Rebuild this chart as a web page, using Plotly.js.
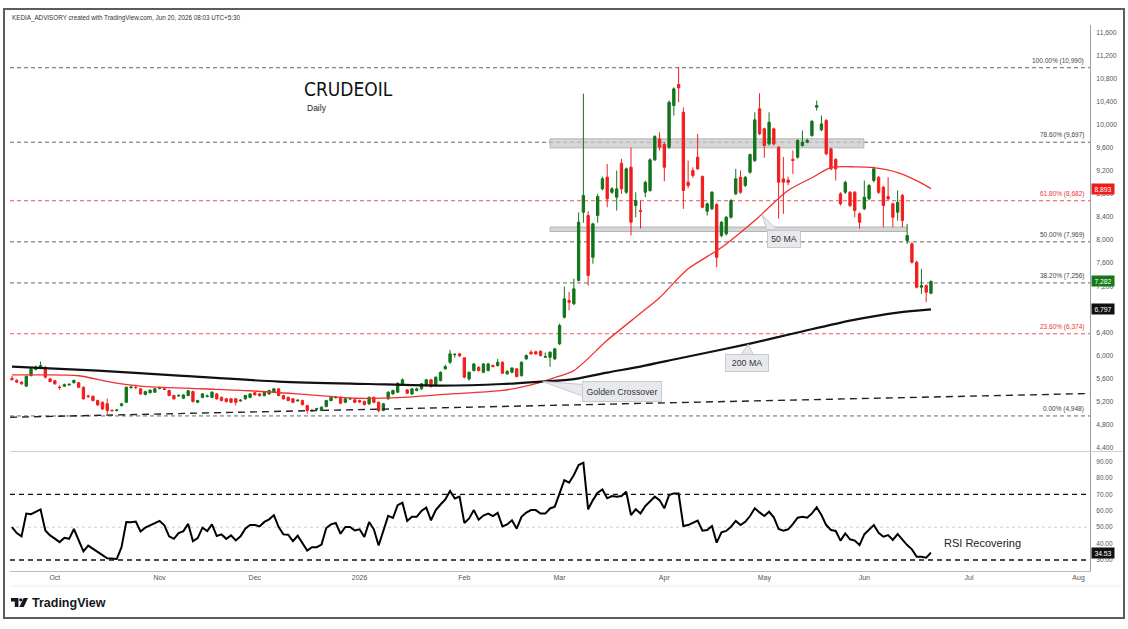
<!DOCTYPE html>
<html><head><meta charset="utf-8">
<script src="https://cdn.plot.ly/plotly-3.0.1.min.js"></script>
<style>
html,body{margin:0;padding:0;background:#fff;}
#wrap{position:relative;width:1128px;height:629px;overflow:hidden;}
#chart{position:absolute;left:0;top:0;width:1128px;height:629px;}
#frame{position:absolute;left:3px;top:8px;width:1122px;height:611px;border:2px solid #5c5c5c;box-sizing:border-box;pointer-events:none;}
</style></head>
<body><div id="wrap"><div id="chart"></div><div id="frame"></div></div>
<script>
// ---------- DATA ----------
const lastBarDate = '2026-06-19';
const holidays = ['2025-10-02','2025-12-25','2026-04-03'];

const opens = [
5600,5565,5535,5465,5650,5755,5775,5793,5590,5560,5450,5465,5485,5525,5525,5445,5295,5290,5215,5185,
5160,5045,5040,5128,5185,5440,5445,5418,5320,5350,5360,5425,5420,5389,5302,5295,5255,5302,5370,5185,
5270,5285,5270,5330,5270,5245,5245,5245,5210,5245,5270,5350,5330,5300,5330,5360,5418,
5302,5270,5245,5210,5215,5128,5045,5065,5042,5110,5215,5265,5270,5185,5240,5228,5215,5200,5158,5270,
5185,5042,5245,5330,5360,5505,5400,5330,5389,5418,5475,5575,5475,5562,5765,
5880,6010,6025,5955,5590,5736,5793,5706,5736,5822,5822,5880,5678,5706,5765,5648,5938,6053,6060,6070,5966,5966,5938,6199,
6660,6950,6893,7300,8482,8425,7700,8425,8888,9090,8829,8743,9333,8829,9263,8599,8512,8829,8858,9391,
9755,9657,9610,10333,10698,10217,9003,9206,9437,9102,8500,8541,8616,8078,8107,8396,8801,9089,8946,9176,
9379,10276,9929,9669,9929,9610,9061,9040,9400,9437,9640,9698,9813,10304,9912,10073,9582,9397,8801,8829,
8829,8829,8455,8541,8715,9032,9089,8916,8755,8628,8483,8772,7991,7934,7615,7181,7210,7077];
const highs = [
5640,5590,5550,5650,5780,5820,5890,5810,5610,5575,5480,5510,5520,5580,5540,5460,5320,5300,5230,5200,
5250,5060,5070,5175,5460,5480,5490,5430,5385,5410,5430,5460,5430,5400,5315,5320,5325,5400,5385,5230,
5345,5320,5375,5345,5285,5260,5260,5260,5240,5315,5345,5365,5345,5375,5405,5435,5430,
5315,5285,5260,5240,5230,5140,5070,5090,5115,5230,5290,5295,5285,5260,5270,5245,5230,5215,5285,5285,
5200,5175,5375,5405,5530,5600,5415,5430,5440,5520,5590,5590,5635,5720,5836,
6094,6040,6040,5970,5720,5865,5810,5865,5870,5840,5938,5895,5740,5795,5780,5895,6015,6090,6080,6085,6050,6070,6130,6550,
7193,7100,7330,8480,10540,8500,8300,8800,9100,9322,8920,9206,9409,9260,9605,8829,8685,9030,9420,9820,
9870,9700,10420,10650,10998,10300,9380,9260,9842,9120,8650,8850,8640,8330,8420,8710,9235,9206,9110,9500,
10217,10547,9950,10217,9950,9630,9440,9100,9553,9750,9900,9760,10080,10420,10160,10100,9600,9420,8830,9030,
8850,8850,8480,9032,8970,9275,9110,8940,9089,8650,8860,8800,8281,7960,7640,7500,7230,7300];
const lows = [
5560,5520,5490,5450,5630,5740,5760,5600,5530,5490,5400,5450,5470,5510,5430,5230,5260,5200,5120,5050,
4985,5020,5030,5110,5170,5420,5410,5315,5305,5340,5350,5410,5395,5290,5230,5280,5240,5290,5180,5170,
5255,5270,5255,5230,5200,5180,5170,5130,5195,5230,5255,5300,5285,5290,5315,5345,5290,
5230,5200,5170,5195,5130,4990,5020,5050,5030,5100,5200,5250,5155,5170,5225,5170,5175,5130,5140,5170,
5010,5030,5230,5315,5345,5490,5330,5315,5375,5400,5460,5440,5460,5550,5750,
5850,5960,5975,5600,5560,5720,5720,5690,5720,5790,5805,5675,5660,5690,5615,5630,5920,6010,6010,5980,5960,5800,5920,6180,
6640,6780,6870,7280,8300,7210,7590,8300,8860,8569,8800,8512,8800,8800,8078,8395,8200,8743,8840,9370,
9553,9020,9580,10160,10391,8541,8900,9080,9220,8550,8425,8520,7528,8050,8080,8370,8780,8800,8920,9150,
9350,9820,9426,9640,9640,8368,8454,8950,9148,9410,9620,9680,9790,10246,9890,9470,9210,9032,8600,8800,
8570,8396,8194,8520,8690,9000,8800,8222,8690,8222,8338,8222,7934,7590,7160,7066,6921,7060];
const closes = [
5580,5535,5505,5635,5765,5795,5822,5620,5545,5505,5440,5490,5495,5562,5445,5245,5285,5215,5140,5070,
5040,5040,5050,5158,5445,5450,5440,5330,5370,5395,5418,5435,5410,5302,5245,5305,5312,5383,5198,5215,
5330,5295,5360,5245,5215,5198,5185,5185,5220,5302,5330,5315,5300,5360,5389,5418,5302,
5245,5215,5185,5220,5145,5042,5040,5075,5100,5215,5270,5275,5168,5245,5250,5185,5190,5145,5270,5185,
5042,5158,5360,5389,5515,5575,5342,5418,5418,5505,5575,5458,5620,5706,5805,
6025,6015,5990,5620,5706,5850,5736,5850,5850,5805,5880,5690,5723,5780,5632,5880,5996,6025,6025,5996,5978,6053,6112,6516,
6980,6920,7153,8310,8772,7384,8281,8755,9062,8715,8888,8888,8888,9235,8309,8685,8495,9002,9391,9795,
9610,9262,10391,10623,10640,8859,8946,9119,9235,8569,8628,8829,7700,8309,8396,8685,9062,8829,9089,9483,
10085,9842,9640,10044,9669,9003,9003,9000,9380,9726,9698,9726,10061,10333,10015,9495,9235,9235,8628,9002,
8599,8512,8309,8743,8946,9235,8829,8599,8715,8396,8656,8338,8078,7615,7181,7210,7094,7282];

const rsi = [
50.1,46.4,44.4,58.3,57.9,59.5,60.8,48,45,43,40.9,43.5,42.9,48.9,42,35.3,38.8,37,34.7,33,
31,30.6,30.6,37.8,53.2,53,53.4,47.4,49.7,51.1,52.5,53.8,51.1,44.4,42.9,46.4,47.6,52,41.5,43.3,
49.7,47.6,51.7,44.6,45.6,42.9,45,41.9,44.4,49.1,51.3,51.3,50.5,53.2,54.8,57.3,50.1,45.6,45.4,41.5,
44.8,39.8,35.7,37.8,37.8,39.4,49.5,51.7,52.6,46,50.1,50.1,48,48.7,44,53.2,48.7,38.8,48,56.9,
55.6,63.4,64.9,53.8,56.3,56.3,59.9,62,54.2,60.4,63.8,66.9,72.1,67.5,68.6,52.6,55.3,60.4,54.6,57.1,
58.3,56.7,58.7,50.5,51.7,54.2,49.1,56.3,58.9,60.4,60.4,58.3,58.3,61.4,62.5,
70.6,78.7,77.1,81.8,87.9,89.3,60.9,66.5,71,73,67.6,69,68.6,69,71.6,57.4,60.9,58.4,62.9,65.5,
68.6,66.5,61.5,69.6,70.6,70.6,50.7,51.3,52.7,54,47.9,48.3,50.7,40.6,46.9,47.7,50.3,53.8,51.3,53.3,
56.8,61.5,59,56.8,59.4,56,48.9,47.9,48.7,51.9,55.8,56.4,55.8,58.4,62.1,57.4,51.3,48.3,47.7,41.8,
46.2,42.6,41.8,39.1,45.6,48.3,51.3,46.6,44.2,45.2,42.2,45.8,42.2,39.1,36.5,32,32,31.4,34.53];

// moving averages read at selected bars (bar index, value)
const ma50Bars = [0,6,14,21,27,40,50,60,72,82,93,103,110,114,118,125,132,136,142,149,156,163,168,172,177,181,186,190,193];
const ma50Vals = [5660,5660,5645,5530,5465,5420,5385,5330,5255,5270,5335,5390,5510,5615,5735,6260,6730,7000,7500,7870,8340,8860,9080,9255,9270,9255,9170,9030,8893];
const ma200Bars = [0,18,35,56,75,90,103,111,118,125,132,140,155,165,176,186,193];
const ma200Vals = [5805,5736,5649,5545,5502,5475,5502,5545,5588,5701,5805,5944,6204,6395,6603,6742,6797];

// trend line (bar index, price)
const trendBars = [-0.4, 226.4];
const trendVals = [4925, 5337];

// Fibonacci retracement levels
const fibPct = ['100.00%','78.60%','61.80%','50.00%','38.20%','23.60%','0.00%'];
const fibVals = [10990,9697,8682,7969,7256,6374,4948];
const fibRed = [false,false,true,false,false,true,false];

// zones (bar start, bar end, low, high)
const zoneStart = [113, 113];
const zoneEnd = [178.9, 187.9];
const zoneLow = [9600, 8148];
const zoneHigh = [9756, 8225];

const monthNames = ['Jan','Feb','Mar','Apr','May','Jun','Jul','Aug','Sep','Oct','Nov','Dec'];

// ---------- BUILD ----------
const N = closes.length;
const iso = d => d.toISOString().slice(0,10);
const isTrading = d => { const w = d.getUTCDay(); return w !== 0 && w !== 6 && !holidays.includes(iso(d)); };
const dates = [];
let d = new Date(lastBarDate + 'T00:00:00Z');
while (dates.length < N) { if (isTrading(d)) dates.unshift(new Date(d)); d.setUTCDate(d.getUTCDate() - 1); }
const allDates = dates.slice();
d = new Date(lastBarDate + 'T00:00:00Z');
while (allDates.length < N + 45) { d.setUTCDate(d.getUTCDate() + 1); if (isTrading(d)) allDates.push(new Date(d)); }
const tickVals = [], tickText = [];
for (let i = 1; i < allDates.length; i++) {
  if (allDates[i].getUTCMonth() !== allDates[i-1].getUTCMonth()) {
    tickVals.push(i);
    const m = allDates[i].getUTCMonth();
    tickText.push(m === 0 ? String(allDates[i].getUTCFullYear()) : monthNames[m]);
  }
}
const xs = Array.from({length: N}, (_, i) => i);
const fmt = v => v.toLocaleString('en-US');

const G = '#11741a', R = '#f21d1d';
const FONT = "'Liberation Sans', Arial, sans-serif";

const traces = [
  {type:'candlestick', x: xs, open: opens, high: highs, low: lows, close: closes, xaxis:'x', yaxis:'y',
   increasing:{line:{color:G, width:1}, fillcolor:G}, decreasing:{line:{color:R, width:1}, fillcolor:R},
   whiskerwidth:0, hoverinfo:'skip'},
  {type:'scatter', mode:'lines', x: ma50Bars, y: ma50Vals, line:{color:'#f23030', width:1.3, shape:'spline', smoothing:0.8}, xaxis:'x', yaxis:'y', hoverinfo:'skip'},
  {type:'scatter', mode:'lines', x: ma200Bars, y: ma200Vals, line:{color:'#111111', width:2.2, shape:'spline', smoothing:0.8}, xaxis:'x', yaxis:'y', hoverinfo:'skip'},
  {type:'scatter', mode:'lines', x: trendBars, y: trendVals, line:{color:'#222', width:1.4, dash:'7px,5px'}, xaxis:'x', yaxis:'y', hoverinfo:'skip'},
  {type:'scatter', mode:'lines', x: xs, y: rsi, line:{color:'#000', width:2}, xaxis:'x', yaxis:'y2', hoverinfo:'skip'}
];

const shapes = [];
const annotations = [];
fibVals.forEach((v, i) => {
  const col = fibRed[i] ? '#e8575a' : '#666';
  shapes.push({type:'line', xref:'paper', x0:0, x1:1, yref:'y', y0:v, y1:v, layer:'below',
    line:{color:col, width:1, dash:'4px,3px'}});
  annotations.push({xref:'paper', x:0.9965, yref:'y', y:v, xanchor:'right', yanchor:'bottom', yshift:1,
    text: fibPct[i] + ' (' + fmt(v) + ')', showarrow:false,
    font:{family:FONT, size:6.5, color: fibRed[i] ? '#e53935' : '#444'}});
});
zoneStart.forEach((s, i) => {
  shapes.push({type:'rect', xref:'x', yref:'y', x0:s, x1:zoneEnd[i], y0:zoneLow[i], y1:zoneHigh[i], layer:'below',
    fillcolor:'rgba(200,200,200,0.75)', line:{color:'#b4b4b4', width:1}});
});
// RSI reference lines
shapes.push({type:'line', xref:'paper', x0:0, x1:1, yref:'y2', y0:70, y1:70, line:{color:'#111', width:1.3, dash:'5px,4px'}});
shapes.push({type:'line', xref:'paper', x0:0, x1:1, yref:'y2', y0:30, y1:30, line:{color:'#111', width:1.3, dash:'5px,4px'}});
shapes.push({type:'line', xref:'paper', x0:0, x1:1, yref:'y2', y0:50, y1:50, layer:'below', line:{color:'#cfcfcf', width:1, dash:'3px,3px'}});
// panel separator & footer line
shapes.push({type:'line', xref:'paper', x0:0, x1:1.03, yref:'paper', y0:0.2188, y1:0.2188, line:{color:'#cfcfcf', width:1}});
shapes.push({type:'line', xref:'paper', x0:0, x1:1.03, yref:'paper', y0:-0.0275, y1:-0.0275, line:{color:'#ececec', width:1}});

// callouts: wedge + box
const callBg = '#e8e9ed', callLine = '#c6c9d0';
function callout(tipX, tipY, text, ax, ay, w, h, pad, wedge) {
  shapes.push({type:'path', xref:'x', yref:'y', xsizemode:'pixel', ysizemode:'pixel', xanchor:tipX, yanchor:tipY,
    path: wedge, fillcolor: callBg, line:{color: callLine, width:1}});
  annotations.push({xref:'x', yref:'y', x:tipX, y:tipY, ax:ax, ay:ay, showarrow:true, arrowwidth:0.1, arrowcolor:'rgba(0,0,0,0)',
    text:text, width:w, height:h, borderpad:pad, bgcolor:callBg, bordercolor:callLine, borderwidth:1,
    font:{family:FONT, size:8.8, color:'#333'}});
}
callout(111.5, 5545, 'Golden Crossover', 79, 10, 73, 14, 2.5, 'M0,0 L41,-3 L41,-15 Z');
callout(157.5, 8440, '50 MA', 22, 24, 28, 12, 2, 'M0,0 L5,-15 L15,-15 Z');
callout(154.6, 6190, '200 MA', -1.5, 19, 38, 12, 2, 'M0,0 L-7,-10 L5,-10 Z');

// titles & texts
annotations.push({xref:'paper', yref:'paper', x:0.2704, y:0.8828, xanchor:'left', yanchor:'middle', showarrow:false,
  text:'CRUDEOIL', font:{family:"'Liberation Sans Narrow', 'DejaVu Sans Condensed', Arial, sans-serif", size:19, color:'#111'}});
annotations.push({xref:'paper', yref:'paper', x:0.2732, y:0.8480, xanchor:'left', yanchor:'middle', showarrow:false,
  text:'Daily', font:{family:FONT, size:8.5, color:'#222'}});
annotations.push({xref:'paper', yref:'paper', x:0.8630, y:0.0510, xanchor:'left', yanchor:'middle', showarrow:false,
  text:'RSI Recovering', font:{family:FONT, size:11, color:'#222'}});
annotations.push({xref:'paper', yref:'paper', x:0.0, y:1.0128, xanchor:'left', yanchor:'middle', showarrow:false,
  text:'KEDIA_ADVISORY created with TradingView.com, Jun 20, 2026 08:03 UTC+5:30', font:{family:FONT, size:6.3, color:'#333'}});
annotations.push({xref:'paper', yref:'paper', x:0.0185, y:-0.0586, xanchor:'left', yanchor:'middle', showarrow:false,
  text:'<b>TradingView</b>', font:{family:FONT, size:12.5, color:'#131722'}});
// logo shapes
shapes.push({type:'path', xref:'paper', yref:'paper', xsizemode:'pixel', ysizemode:'pixel', xanchor:0.0009, yanchor:-0.0659,
  path:'M0,9 H7.5 V0 H3.8 V5.6 H0 Z', fillcolor:'#131722', line:{width:0}});
shapes.push({type:'circle', xref:'paper', yref:'paper', xsizemode:'pixel', ysizemode:'pixel', xanchor:0.0009, yanchor:-0.0659,
  x0:8.2, x1:11.4, y0:5.6, y1:8.8, fillcolor:'#131722', line:{width:0}});
shapes.push({type:'path', xref:'paper', yref:'paper', xsizemode:'pixel', ysizemode:'pixel', xanchor:0.0009, yanchor:-0.0659,
  path:'M12.6,9 H17 L12.8,0 H8.4 Z', fillcolor:'#131722', line:{width:0}});

// axis value boxes
function valBox(yref, y, text, bg) {
  annotations.push({xref:'paper', x:1, xanchor:'left', xshift:1, yref:yref, y:y, yanchor:'middle', showarrow:false,
    text:text, bgcolor:bg, borderpad:1.5, width:19, font:{family:FONT, size:6.8, color:'#fff'}});
}
valBox('y', ma50Vals[ma50Vals.length-1], fmt(ma50Vals[ma50Vals.length-1]), '#f01b1b');
valBox('y', closes[N-1], fmt(closes[N-1]), '#137a17');
valBox('y', ma200Vals[ma200Vals.length-1], fmt(ma200Vals[ma200Vals.length-1]), '#111');
valBox('y2', rsi[N-1], rsi[N-1].toFixed(2), '#111');

const layout = {
  width:1128, height:629, margin:{l:10, r:38, t:25, b:58},
  paper_bgcolor:'#fff', plot_bgcolor:'#fff', showlegend:false, hovermode:false, dragmode:false,
  xaxis:{domain:[0,1], anchor:'y2', range:[-0.42, 226.4], showgrid:false, zeroline:false,
    showline:true, linecolor:'#b8bcc4', linewidth:1, ticks:'', tickvals:tickVals, ticktext:tickText,
    tickfont:{family:FONT, size:7, color:'#555'}, rangeslider:{visible:false}, fixedrange:true},
  yaxis:{domain:[0.2198,1], anchor:'x', side:'right', range:[4340,11731], tick0:0, dtick:400, tickformat:',d',
    showgrid:false, zeroline:false, showline:true, linecolor:'#9aa0a8', linewidth:1, ticks:'',
    ticklabelstandoff:4, tickfont:{family:FONT, size:6.8, color:'#555'}, fixedrange:true},
  yaxis2:{domain:[0,0.2179], anchor:'x', side:'right', range:[23.3,95.8], tick0:0, dtick:10, tickformat:'.2f',
    showgrid:false, zeroline:false, showline:true, linecolor:'#9aa0a8', linewidth:1, ticks:'',
    ticklabelstandoff:4, tickfont:{family:FONT, size:6.5, color:'#555'}, fixedrange:true},
  shapes: shapes, annotations: annotations
};
Plotly.newPlot('chart', traces, layout, {staticPlot:true, displayModeBar:false});
</script></body></html>
